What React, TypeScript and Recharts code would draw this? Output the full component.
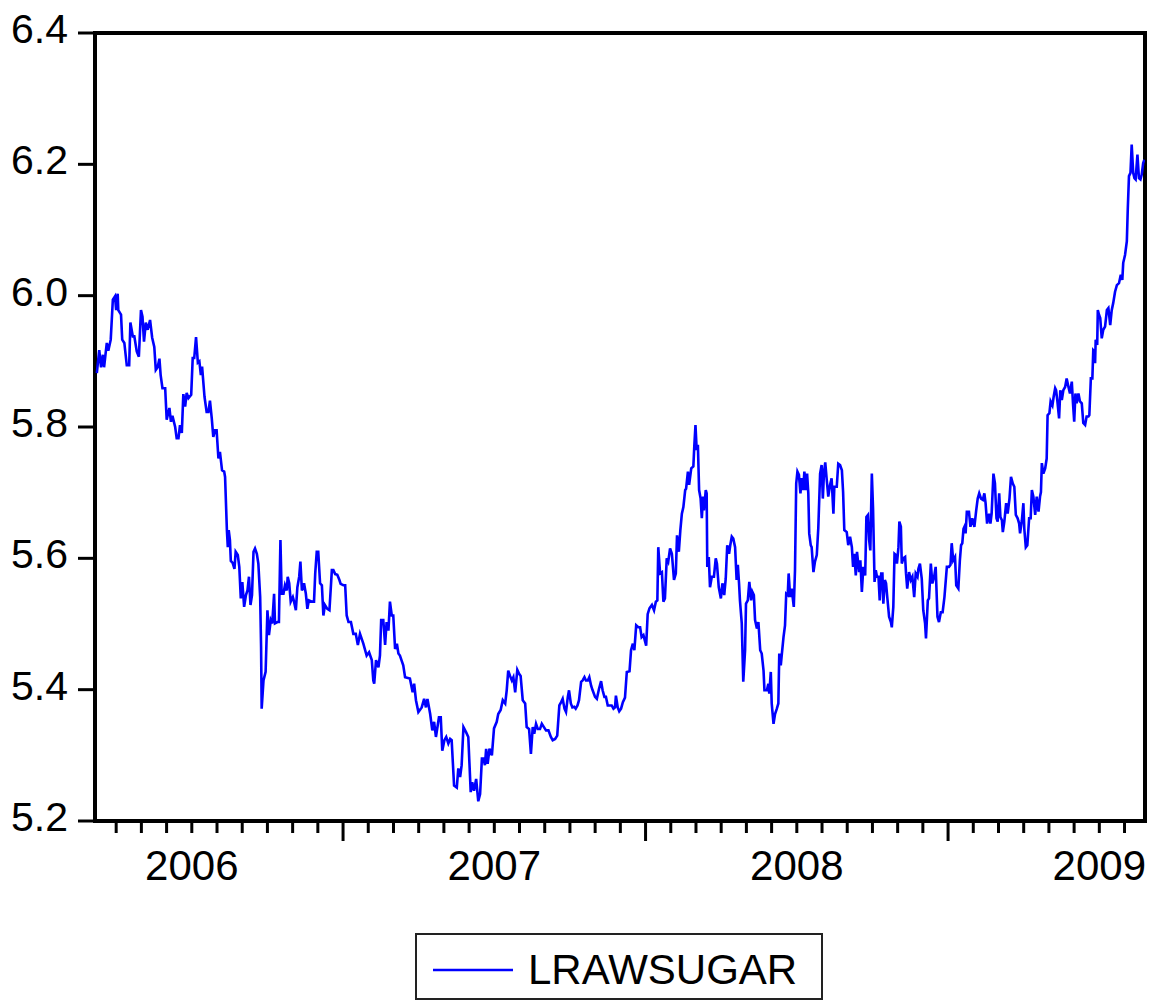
import React from 'react';
import { LineChart, Line, XAxis, YAxis, ReferenceArea, Legend } from 'recharts';

// Observations: [decimal year, log raw sugar price]
const obs2006: [number, number][] = [
  [2006.186,5.882],[2006.194,5.917],[2006.200,5.891],[2006.206,5.910],[2006.210,5.891],[2006.219,5.928],[2006.224,5.916],[2006.232,5.933],[2006.239,5.994],[2006.246,5.999],[2006.250,5.978],[2006.255,6.003],[2006.257,5.978],[2006.266,5.971],[2006.270,5.933],[2006.277,5.928],[2006.285,5.894],[2006.293,5.894],[2006.297,5.959],[2006.305,5.938],[2006.310,5.938],[2006.318,5.915],[2006.325,5.907],[2006.332,5.978],[2006.337,5.968],[2006.342,5.930],[2006.348,5.959],[2006.354,5.948],[2006.362,5.963],[2006.369,5.936],[2006.376,5.922],[2006.381,5.887],[2006.387,5.891],[2006.393,5.904],[2006.397,5.879],[2006.403,5.859],[2006.412,5.859],[2006.417,5.811],[2006.426,5.829],[2006.431,5.808],[2006.436,5.817],[2006.445,5.800],[2006.450,5.783],[2006.456,5.783],[2006.461,5.803],[2006.467,5.791],[2006.472,5.850],[2006.478,5.831],[2006.483,5.852],[2006.489,5.844],[2006.498,5.849],[2006.503,5.905],[2006.508,5.905],[2006.514,5.937],[2006.520,5.898],[2006.525,5.900],[2006.530,5.879],[2006.534,5.892],[2006.542,5.846],[2006.549,5.823],[2006.555,5.823],[2006.560,5.840],[2006.566,5.813],[2006.571,5.785],[2006.577,5.795],[2006.582,5.795],[2006.588,5.752],[2006.593,5.762],[2006.600,5.734],[2006.607,5.732],[2006.610,5.724],[2006.616,5.643],[2006.619,5.617],[2006.622,5.643],[2006.626,5.628],[2006.629,5.596],[2006.635,5.593],[2006.641,5.584],[2006.645,5.610],[2006.652,5.605],[2006.657,5.587],[2006.662,5.539],[2006.667,5.564],[2006.673,5.526],[2006.679,5.544],[2006.684,5.551],[2006.689,5.572],[2006.694,5.529],[2006.699,5.544],[2006.704,5.610],[2006.709,5.615],[2006.715,5.607],[2006.720,5.592],[2006.726,5.541],[2006.729,5.465],[2006.731,5.371],[2006.737,5.414],[2006.744,5.427],[2006.750,5.521],[2006.755,5.483],[2006.761,5.506],[2006.766,5.501],[2006.772,5.546],[2006.775,5.501],[2006.783,5.503],[2006.788,5.503],[2006.793,5.628],[2006.797,5.546],[2006.803,5.546],[2006.808,5.559],[2006.814,5.551],[2006.817,5.572],[2006.822,5.562],[2006.827,5.534],[2006.834,5.541],[2006.838,5.534],[2006.844,5.521],[2006.849,5.556],[2006.855,5.572],[2006.859,5.595],[2006.864,5.551],[2006.871,5.562],[2006.877,5.546],[2006.882,5.523],[2006.887,5.536],[2006.897,5.534],[2006.904,5.534],[2006.908,5.577],[2006.913,5.610],[2006.918,5.610],[2006.924,5.562],[2006.930,5.559],[2006.935,5.513],[2006.940,5.529],[2006.948,5.523],[2006.955,5.521],[2006.963,5.582],[2006.968,5.582],[2006.974,5.576],[2006.981,5.575],[2006.988,5.567],[2006.992,5.561],
];

const obs2007: [number, number][] = [
  [2007.001,5.559],[2007.007,5.559],[2007.012,5.513],[2007.018,5.503],[2007.026,5.503],[2007.034,5.485],[2007.042,5.485],[2007.049,5.468],[2007.056,5.485],[2007.067,5.470],[2007.078,5.452],[2007.086,5.457],[2007.095,5.445],[2007.100,5.414],[2007.103,5.409],[2007.109,5.445],[2007.117,5.434],[2007.122,5.452],[2007.126,5.506],[2007.133,5.506],[2007.139,5.468],[2007.144,5.503],[2007.150,5.490],[2007.155,5.534],[2007.161,5.513],[2007.166,5.513],[2007.172,5.462],[2007.178,5.470],[2007.183,5.455],[2007.188,5.452],[2007.199,5.437],[2007.205,5.419],[2007.221,5.417],[2007.230,5.396],[2007.235,5.409],[2007.241,5.384],[2007.249,5.366],[2007.260,5.373],[2007.268,5.386],[2007.274,5.373],[2007.279,5.386],[2007.288,5.363],[2007.295,5.338],[2007.301,5.351],[2007.307,5.328],[2007.317,5.358],[2007.323,5.358],[2007.328,5.307],[2007.335,5.323],[2007.341,5.328],[2007.348,5.318],[2007.354,5.325],[2007.359,5.323],[2007.367,5.254],[2007.376,5.251],[2007.381,5.280],[2007.387,5.267],[2007.392,5.285],[2007.398,5.343],[2007.407,5.335],[2007.414,5.328],[2007.422,5.244],[2007.427,5.259],[2007.433,5.246],[2007.440,5.264],[2007.447,5.230],[2007.453,5.241],[2007.459,5.295],[2007.464,5.295],[2007.469,5.285],[2007.473,5.310],[2007.478,5.287],[2007.484,5.310],[2007.492,5.300],[2007.499,5.341],[2007.508,5.351],[2007.513,5.363],[2007.521,5.369],[2007.528,5.384],[2007.536,5.379],[2007.541,5.399],[2007.546,5.429],[2007.552,5.421],[2007.558,5.414],[2007.563,5.419],[2007.569,5.396],[2007.576,5.430],[2007.582,5.424],[2007.587,5.421],[2007.594,5.384],[2007.602,5.379],[2007.607,5.343],[2007.615,5.340],[2007.621,5.302],[2007.627,5.343],[2007.632,5.333],[2007.638,5.348],[2007.644,5.340],[2007.651,5.340],[2007.657,5.348],[2007.664,5.343],[2007.671,5.338],[2007.679,5.338],[2007.687,5.328],[2007.693,5.323],[2007.701,5.325],[2007.708,5.330],[2007.715,5.376],[2007.721,5.381],[2007.726,5.386],[2007.732,5.371],[2007.737,5.366],[2007.743,5.389],[2007.747,5.399],[2007.753,5.379],[2007.758,5.373],[2007.764,5.374],[2007.769,5.371],[2007.775,5.376],[2007.780,5.384],[2007.787,5.412],[2007.792,5.414],[2007.798,5.419],[2007.803,5.414],[2007.809,5.414],[2007.814,5.419],[2007.820,5.406],[2007.825,5.399],[2007.833,5.389],[2007.839,5.386],[2007.846,5.401],[2007.853,5.413],[2007.858,5.399],[2007.864,5.389],[2007.869,5.389],[2007.875,5.376],[2007.880,5.376],[2007.888,5.376],[2007.894,5.371],[2007.899,5.373],[2007.902,5.391],[2007.908,5.373],[2007.913,5.367],[2007.919,5.371],[2007.925,5.381],[2007.932,5.388],[2007.938,5.427],[2007.947,5.428],[2007.952,5.460],[2007.958,5.470],[2007.963,5.460],[2007.969,5.498],[2007.976,5.495],[2007.982,5.495],[2007.987,5.480],[2007.993,5.483],
];

const obs2008: [number, number][] = [
  [2008.002,5.467],[2008.007,5.515],[2008.013,5.524],[2008.021,5.529],[2008.028,5.521],[2008.034,5.534],[2008.039,5.536],[2008.042,5.617],[2008.048,5.577],[2008.054,5.579],[2008.059,5.534],[2008.064,5.539],[2008.070,5.600],[2008.075,5.595],[2008.081,5.615],[2008.087,5.607],[2008.094,5.567],[2008.100,5.577],[2008.104,5.635],[2008.110,5.610],[2008.115,5.643],[2008.120,5.668],[2008.125,5.678],[2008.131,5.704],[2008.134,5.706],[2008.140,5.732],[2008.144,5.712],[2008.151,5.737],[2008.158,5.740],[2008.161,5.770],[2008.165,5.803],[2008.169,5.765],[2008.173,5.773],[2008.177,5.704],[2008.182,5.691],[2008.186,5.661],[2008.190,5.694],[2008.193,5.673],[2008.199,5.704],[2008.202,5.699],[2008.204,5.587],[2008.209,5.602],[2008.213,5.556],[2008.219,5.572],[2008.226,5.572],[2008.232,5.600],[2008.236,5.592],[2008.242,5.556],[2008.249,5.539],[2008.254,5.562],[2008.260,5.544],[2008.265,5.569],[2008.270,5.620],[2008.276,5.607],[2008.280,5.620],[2008.285,5.633],[2008.290,5.630],[2008.296,5.617],[2008.301,5.567],[2008.305,5.590],[2008.309,5.562],[2008.312,5.536],[2008.318,5.501],[2008.323,5.412],[2008.329,5.460],[2008.332,5.531],[2008.338,5.536],[2008.343,5.564],[2008.349,5.536],[2008.353,5.549],[2008.358,5.544],[2008.362,5.506],[2008.368,5.493],[2008.373,5.503],[2008.379,5.460],[2008.384,5.455],[2008.390,5.429],[2008.393,5.399],[2008.401,5.399],[2008.406,5.409],[2008.409,5.394],[2008.414,5.427],[2008.417,5.379],[2008.423,5.348],[2008.428,5.363],[2008.434,5.371],[2008.439,5.379],[2008.442,5.455],[2008.447,5.437],[2008.450,5.452],[2008.456,5.480],[2008.461,5.498],[2008.465,5.546],[2008.470,5.544],[2008.473,5.577],[2008.478,5.541],[2008.483,5.554],[2008.490,5.526],[2008.494,5.582],[2008.498,5.714],[2008.502,5.732],[2008.507,5.727],[2008.512,5.699],[2008.516,5.722],[2008.521,5.704],[2008.525,5.732],[2008.530,5.704],[2008.534,5.729],[2008.538,5.699],[2008.541,5.638],[2008.546,5.620],[2008.549,5.617],[2008.555,5.579],[2008.560,5.595],[2008.566,5.605],[2008.571,5.646],[2008.577,5.729],[2008.582,5.742],[2008.586,5.691],[2008.590,5.732],[2008.594,5.746],[2008.599,5.719],[2008.604,5.694],[2008.610,5.712],[2008.615,5.722],[2008.621,5.668],[2008.624,5.709],[2008.632,5.709],[2008.637,5.744],[2008.643,5.742],[2008.649,5.734],[2008.653,5.701],[2008.657,5.643],[2008.665,5.640],[2008.670,5.620],[2008.676,5.633],[2008.682,5.617],[2008.686,5.587],[2008.690,5.607],[2008.695,5.574],[2008.699,5.610],[2008.706,5.579],[2008.710,5.597],[2008.715,5.549],[2008.720,5.587],[2008.726,5.574],[2008.730,5.663],[2008.735,5.666],[2008.739,5.628],[2008.743,5.612],[2008.748,5.729],[2008.752,5.676],[2008.757,5.564],[2008.761,5.582],[2008.765,5.572],[2008.770,5.572],[2008.774,5.536],[2008.779,5.577],[2008.783,5.577],[2008.786,5.531],[2008.791,5.567],[2008.795,5.562],[2008.799,5.541],[2008.805,5.511],[2008.811,5.503],[2008.814,5.495],[2008.819,5.526],[2008.823,5.607],[2008.828,5.605],[2008.831,5.592],[2008.836,5.617],[2008.839,5.656],[2008.844,5.648],[2008.847,5.592],[2008.852,5.600],[2008.858,5.602],[2008.861,5.577],[2008.865,5.554],[2008.871,5.579],[2008.877,5.567],[2008.882,5.572],[2008.888,5.541],[2008.893,5.577],[2008.899,5.572],[2008.902,5.584],[2008.907,5.592],[2008.913,5.569],[2008.918,5.521],[2008.924,5.501],[2008.927,5.478],[2008.933,5.536],[2008.937,5.539],[2008.943,5.592],[2008.948,5.562],[2008.954,5.572],[2008.959,5.587],[2008.965,5.511],[2008.970,5.503],[2008.976,5.518],[2008.982,5.518],[2008.988,5.541],[2008.996,5.587],
];

const obs2009: [number, number][] = [
  [2009.003,5.587],[2009.008,5.590],[2009.012,5.623],[2009.017,5.597],[2009.023,5.602],[2009.027,5.559],[2009.034,5.554],[2009.039,5.597],[2009.043,5.620],[2009.047,5.623],[2009.051,5.645],[2009.054,5.648],[2009.058,5.638],[2009.062,5.671],[2009.069,5.671],[2009.074,5.648],[2009.080,5.661],[2009.087,5.648],[2009.093,5.673],[2009.098,5.691],[2009.103,5.699],[2009.109,5.691],[2009.115,5.689],[2009.120,5.699],[2009.124,5.684],[2009.129,5.653],[2009.136,5.668],[2009.140,5.653],[2009.144,5.668],[2009.150,5.729],[2009.155,5.714],[2009.160,5.661],[2009.164,5.656],[2009.169,5.699],[2009.173,5.663],[2009.178,5.658],[2009.181,5.640],[2009.186,5.656],[2009.192,5.684],[2009.197,5.668],[2009.203,5.691],[2009.208,5.724],[2009.214,5.714],[2009.219,5.709],[2009.224,5.666],[2009.230,5.661],[2009.235,5.653],[2009.238,5.638],[2009.244,5.658],[2009.249,5.684],[2009.252,5.645],[2009.257,5.617],[2009.262,5.620],[2009.268,5.661],[2009.273,5.661],[2009.277,5.704],[2009.282,5.694],[2009.288,5.666],[2009.293,5.694],[2009.299,5.671],[2009.304,5.694],[2009.307,5.701],[2009.310,5.745],[2009.315,5.729],[2009.321,5.737],[2009.326,5.752],[2009.329,5.818],[2009.335,5.821],[2009.339,5.839],[2009.345,5.833],[2009.349,5.846],[2009.354,5.859],[2009.357,5.856],[2009.361,5.841],[2009.367,5.813],[2009.371,5.856],[2009.376,5.841],[2009.381,5.856],[2009.387,5.861],[2009.392,5.874],[2009.398,5.861],[2009.403,5.851],[2009.409,5.869],[2009.413,5.836],[2009.417,5.808],[2009.421,5.851],[2009.425,5.836],[2009.431,5.851],[2009.436,5.839],[2009.442,5.836],[2009.447,5.806],[2009.453,5.803],[2009.458,5.816],[2009.464,5.816],[2009.467,5.818],[2009.472,5.874],[2009.477,5.874],[2009.480,5.917],[2009.484,5.915],[2009.486,5.897],[2009.488,5.933],[2009.493,5.925],[2009.495,5.978],[2009.499,5.971],[2009.503,5.966],[2009.508,5.935],[2009.513,5.948],[2009.519,5.953],[2009.525,5.978],[2009.530,5.981],[2009.536,5.955],[2009.541,5.978],[2009.546,5.989],[2009.552,6.006],[2009.558,6.016],[2009.565,6.019],[2009.571,6.032],[2009.576,6.024],[2009.579,6.050],[2009.585,6.062],[2009.591,6.083],[2009.594,6.131],[2009.598,6.182],[2009.603,6.187],[2009.607,6.230],[2009.612,6.187],[2009.616,6.179],[2009.620,6.177],[2009.626,6.215],[2009.631,6.179],[2009.636,6.177],[2009.640,6.184],[2009.645,6.202],[2009.649,6.207],
];

const seriesName = 'LRAWSUGAR';
const years = [2006, 2007, 2008, 2009];
const yearLabels = ['2006', '2007', '2008', '2009'];
const yTicks = [5.2, 5.4, 5.6, 5.8, 6.0, 6.2, 6.4];
const timeDomain: [number, number] = [2006.18, 2009.651];
const valueDomain: [number, number] = [5.2, 6.4];

const data = [...obs2006, ...obs2007, ...obs2008, ...obs2009].map(([t, v]) => ({ t, v }));

const monthTicks: number[] = [];
years.forEach((yr) => {
  for (let m = 0; m < 12; m++) {
    const t = yr + m / 12;
    if (t >= timeDomain[0] && t <= timeDomain[1]) monthTicks.push(t);
  }
});

const FONT = '"Liberation Sans", Arial, Helvetica, sans-serif';

const XTick = (props: any) => {
  const { x, y, payload } = props;
  const idx = Math.round(payload.value * 12);
  const m = ((idx % 12) + 12) % 12;
  const yr = Math.floor(idx / 12);
  const len = m === 0 ? 20 : 12;
  const label = yearLabels[years.indexOf(yr)];
  return (
    <g>
      <line x1={x} x2={x} y1={y} y2={y + len} stroke="#000" strokeWidth={3} />
      {m === 6 && label ? (
        <text x={x} y={y + 59} textAnchor="middle" fontSize={42} fontFamily={FONT} fill="#000">
          {label}
        </text>
      ) : null}
    </g>
  );
};

const YTick = (props: any) => {
  const { x, y, payload } = props;
  return (
    <text x={x} y={y + 10} textAnchor="end" fontSize={41} fontFamily={FONT} fill="#000">
      {Number(payload.value).toFixed(1)}
    </text>
  );
};

const renderLegend = () => (
  <svg width={408} height={67} style={{ display: 'block' }}>
    <rect x={1} y={1} width={406} height={65} fill="#fff" stroke="#222" strokeWidth={2} />
    <line x1={18} x2={98} y1={37} y2={37} stroke="#0000FF" strokeWidth={2.6} />
    <text x={113} y={51} fontSize={42} fontFamily={FONT} fill="#000">
      {seriesName}
    </text>
  </svg>
);

export default function App() {
  return (
    <div style={{ position: 'absolute', left: 0, top: 0, width: 1152, height: 1001, background: '#fff' }}>
      <LineChart
        width={1152}
        height={1001}
        data={data}
        margin={{ top: 33, right: 7, left: 15, bottom: 120 }}
      >
        <XAxis
          dataKey="t"
          type="number"
          domain={timeDomain}
          allowDataOverflow
          ticks={monthTicks}
          interval={0}
          tick={<XTick />}
          tickLine={false}
          tickSize={0}
          tickMargin={0}
          axisLine={false}
          height={60}
        />
        <YAxis
          type="number"
          domain={valueDomain}
          allowDataOverflow
          ticks={yTicks}
          interval={0}
          tick={<YTick />}
          tickSize={17}
          tickMargin={10}
          tickLine={{ stroke: '#000', strokeWidth: 3 }}
          axisLine={false}
          width={80}
        />
        <Line
          type="linear"
          dataKey="v"
          name={seriesName}
          stroke="#0000FF"
          strokeWidth={2.6}
          dot={false}
          activeDot={false}
          isAnimationActive={false}
        />
        <ReferenceArea
          x1={timeDomain[0]}
          x2={timeDomain[1]}
          y1={valueDomain[0]}
          y2={valueDomain[1]}
          fill="none"
          fillOpacity={0}
          stroke="#000"
          strokeWidth={4}
          strokeOpacity={1}
          ifOverflow="visible"
        />
        <Legend
          layout="horizontal"
          verticalAlign="middle"
          align="center"
          wrapperStyle={{ left: 415, top: 933, width: 408, height: 67 }}
          content={renderLegend}
        />
      </LineChart>
    </div>
  );
}
